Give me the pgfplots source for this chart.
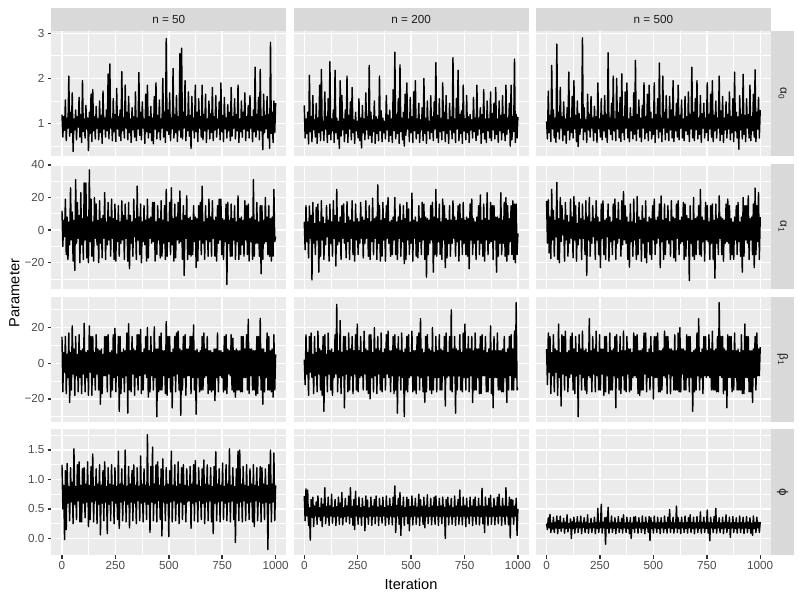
\documentclass[border=0pt]{standalone}
\usepackage{fontspec}
\setmainfont{Liberation Sans}
\newfontfamily\dejavu{DejaVu Sans}
\usepackage{pgfplots}
\usepackage{pgfplotstable}
\pgfplotsset{compat=1.18}

\definecolor{gray92}{HTML}{EBEBEB}
\definecolor{gray85}{HTML}{D9D9D9}
\definecolor{gray30}{HTML}{4D4D4D}
\definecolor{gray20}{HTML}{333333}
\definecolor{gray10}{HTML}{1A1A1A}

% traces: it = iteration, a = n=50, b = n=200, c = n=500
% alpha_0
\pgfplotstableread{
it a b c
0 1.20 1.40 1.05
4 0.70 0.68 0.66
8 1.15 1.10 1.72
12 0.85 0.78 0.80
16 1.52 1.25 1.18
20 0.62 0.55 0.60
24 1.12 2.07 2.29
28 0.90 0.82 0.88
32 2.05 1.15 1.30
36 0.72 0.60 0.68
40 1.25 1.62 1.12
44 0.80 0.86 0.58
48 1.68 1.08 2.76
52 0.38 0.70 0.82
56 1.10 1.45 1.25
60 0.86 0.56 0.66
64 1.30 1.12 1.80
68 0.64 0.80 0.90
72 1.15 1.85 1.15
76 0.92 0.62 0.62
80 1.58 2.20 1.48
84 0.70 0.84 0.75
88 1.20 1.05 1.10
92 0.58 0.62 0.56
96 1.95 1.70 1.35
100 0.82 0.88 0.85
104 1.10 1.15 2.14
108 0.68 0.58 0.64
112 1.40 1.55 1.12
116 0.88 0.76 0.80
120 1.12 2.37 1.60
124 0.40 0.64 0.68
128 1.25 1.10 1.95
132 0.78 0.84 0.88
136 1.65 1.30 1.18
140 0.60 0.58 0.60
144 1.75 2.18 1.50
148 0.84 0.80 0.49
152 1.15 1.12 1.22
156 0.66 0.66 0.76
160 1.38 1.05 1.10
164 0.90 0.45 0.90
168 1.10 1.95 2.90
172 0.64 0.72 0.64
176 1.50 1.62 1.35
180 0.80 0.86 0.82
184 1.18 1.10 1.08
188 0.56 0.60 0.58
192 1.72 1.30 1.65
196 0.88 0.78 0.86
200 1.12 2.05 1.20
204 0.70 0.58 0.70
208 1.30 1.18 1.60
212 0.84 0.88 0.90
216 2.10 1.48 1.12
220 0.66 0.64 0.62
224 2.32 1.80 1.38
228 0.90 0.80 0.80
232 1.10 1.08 1.15
236 0.62 0.56 0.58
240 1.55 1.25 1.90
244 0.82 0.84 0.88
248 1.20 1.05 1.10
252 0.60 0.68 0.70
256 1.78 1.55 1.55
260 0.88 0.62 0.64
264 1.15 1.12 1.18
268 0.72 0.46 0.84
272 1.30 1.40 1.62
276 0.62 0.80 0.70
280 2.15 1.10 1.20
284 0.84 0.64 0.58
288 1.12 1.68 2.57
292 0.68 0.86 0.88
296 1.85 1.15 1.12
300 0.90 0.66 0.76
304 1.25 2.29 1.45
308 0.64 0.74 0.64
312 1.60 1.25 2.05
316 0.80 0.58 0.84
320 1.10 1.08 1.10
324 0.58 0.82 0.62
328 1.35 1.50 2.00
332 0.86 0.56 0.88
336 1.15 1.15 1.25
340 0.70 0.78 0.68
344 1.70 1.10 1.58
348 0.62 0.62 0.60
352 1.12 2.05 2.10
356 0.88 0.84 0.80
360 2.13 1.28 1.15
364 0.74 0.60 0.64
368 1.25 1.12 1.70
372 0.64 0.80 0.90
376 1.48 1.05 1.90
380 0.90 0.66 0.68
384 1.10 1.62 1.10
388 0.56 0.86 0.60
392 1.65 1.18 1.35
396 0.82 0.60 0.84
400 1.85 1.30 1.15
404 0.68 0.74 0.66
408 1.15 1.10 1.68
412 0.80 0.58 0.76
416 1.38 1.75 2.40
420 0.62 0.84 0.62
424 1.12 2.58 1.20
428 0.55 0.66 0.88
432 1.60 1.20 1.52
436 0.88 0.78 0.70
440 1.90 1.55 1.12
444 0.66 0.56 0.60
448 1.18 2.30 1.40
452 0.82 0.82 0.90
456 1.52 1.12 1.90
460 0.64 0.64 0.66
464 1.10 1.25 1.15
468 0.90 0.50 0.80
472 2.00 1.65 1.65
476 0.70 0.74 0.62
480 1.25 1.90 1.85
484 0.58 0.88 0.84
488 2.88 1.10 1.25
492 0.84 0.60 0.66
496 1.30 1.58 1.10
500 0.76 0.80 0.76
504 1.68 1.15 1.90
508 0.62 0.58 0.58
512 1.12 1.70 1.20
516 0.88 0.84 0.88
520 2.22 1.95 1.55
524 0.68 0.66 0.68
528 1.20 1.10 2.34
532 0.80 0.78 0.82
536 1.62 1.45 1.12
540 0.60 0.58 0.60
544 1.15 1.08 2.05
548 0.86 0.86 0.90
552 2.55 1.35 1.25
556 0.70 0.62 0.64
560 2.67 2.00 1.62
564 0.66 0.78 0.80
568 1.25 1.12 1.10
572 0.90 0.56 0.62
576 1.95 1.50 1.60
580 0.62 0.84 0.86
584 1.15 1.05 1.30
588 0.84 0.66 0.68
592 1.70 1.62 1.95
596 0.72 0.80 0.60
600 1.18 1.15 1.15
604 0.45 0.62 0.84
608 1.60 1.48 1.45
612 0.86 0.88 0.70
616 1.12 2.35 1.85
620 0.68 0.68 0.64
624 1.85 1.18 1.18
628 0.82 0.58 0.90
632 1.25 1.55 1.52
636 0.60 0.82 0.68
640 1.55 1.10 1.10
644 0.90 0.64 0.62
648 1.15 1.90 1.60
652 0.70 0.84 0.84
656 1.85 1.25 1.15
660 0.64 0.60 0.76
664 1.20 1.62 1.70
668 0.84 0.78 0.60
672 1.65 1.08 1.20
676 0.58 0.56 0.88
680 1.10 1.45 2.25
684 0.88 0.86 0.68
688 1.50 1.15 1.25
692 0.66 0.66 0.62
696 1.22 2.46 1.55
700 0.80 0.80 0.86
704 1.80 1.10 1.95
708 0.62 0.58 0.66
712 1.15 1.55 1.12
716 0.86 0.88 0.76
720 1.62 2.18 1.62
724 0.70 0.62 0.58
728 1.10 1.20 1.22
732 0.90 0.78 0.90
736 1.48 1.28 1.45
740 0.64 0.56 0.68
744 1.90 1.85 1.12
748 0.82 0.84 0.80
752 1.18 1.10 1.90
756 0.60 0.64 0.62
760 1.58 1.62 1.20
764 0.88 0.80 0.88
768 1.12 1.15 1.65
772 0.68 0.58 0.70
776 1.42 1.20 1.95
780 0.84 0.86 0.60
784 1.25 1.08 1.18
788 0.62 0.68 0.84
792 1.80 1.58 1.50
796 0.72 0.82 0.68
800 1.15 1.12 1.12
804 0.90 0.62 0.90
808 1.55 1.85 2.05
812 0.66 0.74 0.62
816 1.20 1.12 1.28
820 0.84 0.88 0.76
824 1.85 1.35 1.60
828 0.58 0.56 0.58
832 1.10 1.20 1.12
836 0.82 0.80 0.86
840 1.50 1.75 1.48
844 0.70 0.66 0.68
848 1.25 1.10 1.20
852 0.88 0.58 0.88
856 1.68 1.50 1.70
860 0.62 0.84 0.64
864 1.15 1.10 1.15
868 0.84 0.68 0.80
872 1.40 1.70 1.55
876 0.68 0.62 0.60
880 1.62 1.22 2.14
884 0.90 0.86 0.84
888 1.15 1.45 1.25
892 0.60 0.66 0.68
896 1.30 1.80 1.15
900 0.82 0.76 0.43
904 2.25 1.10 1.62
908 0.70 0.58 0.86
912 1.20 1.50 1.20
916 0.86 0.84 0.66
920 1.58 1.18 2.09
924 0.64 0.64 0.76
928 2.20 1.62 1.18
932 0.84 0.80 0.60
936 1.15 1.20 1.55
940 0.42 0.62 0.90
944 1.65 1.85 1.20
948 0.80 0.76 0.68
952 1.18 1.12 1.85
956 0.88 0.88 0.62
960 1.60 1.45 1.15
964 0.68 0.50 0.84
968 1.20 1.85 1.65
972 0.45 0.64 0.70
976 2.80 1.15 2.19
980 0.78 0.82 0.60
984 1.25 2.43 1.25
988 0.58 0.58 0.88
992 1.50 1.20 1.58
996 0.80 0.68 0.68
1000 1.45 1.15 1.30
}\tabA

% alpha_1
\pgfplotstableread{
it a b c
0 12 5 18
4 -10 -12 -8
8 6 15 18.6
12 -4 -7 -14
16 19 5 8
20 -15 -17 -17.5
24 8 14.8 25
28 -18 -5 -6
32 5 9 12
36 -9 -30.5 -16
40 26 17 6
44 -6 -8 -4
48 11 4 29.3
52 -19 -15 -18
56 6 14 7
60 -24.7 -6 -20
64 31 16 20
68 -8 -25.8 -7
72 17 5 15
76 -5 -16 -3
80 9 18 6
84 -20 -6 -19
88 23 8 17
92 -9 -18 -6
96 7 4 9
100 -18 -9 -16
104 29 15 5
108 -6 -4 -8
112 28.9 6 19
116 -17 -19 -5
120 8 16 8
124 -20 -8 -17
128 37 5 20.6
132 -7 -16 -6
136 19 18 15
140 -16 -5 -19
144 5 9 4
148 -19 -22 -9
152 20 25 17
156 -5 -9 -5
160 16 5 7
164 -9 -7 -18
168 6 8 16
172 -20 -18 -5
176 18 15 6
180 -8 -5 -15
184 7 16 18
188 -17 -8 -27.8
192 9 4 8
196 -5 -17 -6
200 23 17.5 20
204 -18 -7 -16
208 5 8 5
212 -9 -18 -8
216 17 6 15
220 -6 -5 -4
224 8 18 7
228 -16 -15 -18
232 19 5 18
236 -5 -19 -6
240 7 16 8
244 -18 -6 -15
248 16 7 5
252 -19 -15 -23
256 6 5 16
260 -7 -8 -5
264 15 17 18
268 -16 -5 -15
272 5 8 6
276 -8 -17 -18
280 18 6 7
284 -6 -8 -4
288 9 18 16
292 -18 -5 -19
296 16 7 8
300 -5 -16 -7
304 6 15 5
308 -19 -18 -15
312 17 5 16
316 -23.7 -7 -6
320 9 19.6 19
324 -8 -15 -18
328 5 7 7
332 -16 -5 -8
336 19 8 17
340 -4 -18 -5
344 7 27.8 6
348 -18 -8 -16
352 27 15 18
356 -6 -19 -9
360 8 6 23.7
364 -15 -16 -6
368 16 17 15
372 -20 -6 -8
376 5 7 8
380 -7 -19 -18
384 15 15 5
388 -9 -5 -22.7
392 6 20 16
396 -19 -8 -7
400 19 5 5
404 -17 -16 -16
408 7 6 19
412 -5 -15 -6
416 8 8 4
420 -8 -6 -18
424 17 20 20.6
428 -7 -15 -15
432 17 5 8
436 -19 -18 -5
440 5 8 6
444 -15 -5 -19
448 15 16 15
452 -6 -16 -8
456 7 6 7
460 -17 -7 -17
464 18 15 18
468 -16 -20.6 -20
472 6 7 5
476 -8 -18 -7
480 15 17 8
484 -18 -6 -15
488 25 13 7
492 -16 -15 -18
496 5 5 15
500 -7 -8 -6
504 17 22.7 19
508 -15 -19 -15
512 26 6 6
516 -9 -5 -8
520 7 8 8
524 -19 -16 -5
528 16 5 16
532 -17 -17 -23
536 8 15 21
540 -6 -7 -7
544 17 7 6
548 -8 -15 -18
552 24 17 16
556 -7 -6 -15
560 6 16 7
564 -18 -18 -6
568 15 8 15
572 -27.8 -28.9 -8
576 9 7 5
580 -5 -15 -16
584 21 6 18
588 -18 -8 -6
592 7 15 8
596 -15 -6 -17
600 8 17 7
604 -16 -25.8 -19
608 6 8 16
612 -15 -15 -5
616 15 25 18
620 -7 -16 -15
624 8 7 6
628 -23 -7 -8
632 7 16 8
636 -19 -15 -7
640 15 5 17
644 -6 -18 -18
648 17 19 16
652 -15 -6 -16
656 27 15 9
660 -8 -23 -6
664 5 7 7
668 -18 -17 -31
672 15 6 15
676 -6 -8 -8
680 7 15 6
684 -16 -16 -16
688 19 6 20
692 -7 -8 -18
696 8 18 7
700 -16 -5 -15
704 18 8 8
708 -5 -16 -6
712 6 6 15
716 -16 -7 -15
720 8 15 25
724 -19 -19 -16
728 15 16 8
732 -8 -6 -7
736 19 7 6
740 -6 -15 -19
744 19 17 17
748 -15 -8 -6
752 7 6 15
756 -18 -15 -7
760 6 8 5
764 -7 -16 -18
768 16 7 15
772 -33.4 -23.7 -8
776 17 16 16
780 -8 -6 -18
784 6 19 6
788 -16 -15 -29.5
792 16 7 16
796 -16 -8 -8
800 7 5 7
804 -6 -18 -15
808 15 8 21
812 -18 -6 -5
816 5 15 8
820 -7 -15 -15
824 21 21.6 7
828 -18 -8 -19
832 7 6 6
836 -15 -16 -8
840 8 16 16
844 -9 -19 -7
848 6 7 19
852 -16 -6 -8
856 18 23 15
860 -6 -15 -18
864 15 6 7
868 -15 -8 -15
872 16 17 5
876 -19 -7 -18
880 7 15 8
884 -7 -18 -6
888 8 15 15
892 -18 -6 -15
896 31 8 17
900 -16 -25.8 -7
904 6 8 5
908 -8 -16 -16
912 17 7 8
916 -8 -8 -25.8
920 5 23 20
924 -16 -15 -16
928 15 6 15
932 -26.8 -8 -6
936 15 17 15
940 -18 -16 -8
944 6 20 21
948 -8 -19 -18
952 20 15 7
956 -7 -15 -6
960 8 7 8
964 -15 -7 -15
968 15 15 16
972 -16 -15 -23
976 7 18 25.8
980 -19 -18 -15
984 8 16 15
988 -16 -20 -7
992 25 16 23
996 -7 -15 -18
1000 -4 -2 8
}\tabB

% beta_1
\pgfplotstableread{
it a b c
0 15 2 8
4 -16 -12 -12
8 6 16 17
12 -5 -6 -5
16 15 6 15
20 -17 -18 -17
24 5 15 6
28 -8 -5 -7
32 17 17 16
36 -22 -8 -16
40 6 5 8
44 -15 -17 -5
48 21 15 7
52 -6 -7 -18
56 8 6 22
60 -18 -16 -8
64 15 18 6
68 -7 -6 -24
72 5 8 16
76 -16 -15 -6
80 16 7 15
84 -8 -18 -15
88 7 15 18
92 -17 -27 -7
96 8 16 6
100 -6 -7 -16
104 22.4 5 7
108 -16 -16 -8
112 6 17 15
116 -8 -6 -6
120 7 7 17
124 -18 -15 -15
128 21 8 8
132 -5 -18 -17
136 15 6 15
140 -18 -8 -7
144 15 16 6
148 -8 -6 -30
152 6 33 16
156 -15 -16 -6
160 16 7 8
164 -6 -8 -15
168 8 24 18
172 -15 -17 -8
176 7 6 7
180 -23 -7 -15
184 8 15 8
188 -17 -25 -17
192 5 15 6
196 -7 -6 -7
200 15 7 25
204 -7 -16 -8
208 15 17 7
212 -16 -15 -16
216 16 8 15
220 -6 -7 -6
224 6 15 8
228 -19 -17 -16
232 7 7 18
236 -15 -6 -7
240 16 16 6
244 -8 -15 -15
248 19.6 22 16
252 -16 -16 -15
256 5 7 8
260 -7 -8 -6
264 15 15 8
268 -27 -7 -18
272 15 6 15
276 -17 -15 -16
280 6 18 15
284 -8 -6 -7
288 8 8 6
292 -16 -15 -17
296 7 7 17
300 -7 -17 -15
304 17 16 7
308 -28 -20 -15
312 22.2 16 8
316 -15 -8 -7
320 7 6 15
324 -16 -16 -25
328 15 20 16
332 -6 -7 -8
336 8 8 6
340 -18 -17 -15
344 7 15 15
348 -8 -6 -17
352 16 7 7
356 -15 -15 -7
360 16 17 18
364 -7 -16 -15
368 19 6 7
372 -17 -8 -16
376 6 8 15
380 -15 -15 -6
384 8 16 8
388 -6 -6 -16
392 15 18 8
396 -8 -8 -15
400 20 7 6
404 -19 -16 -8
408 7 7 17
412 -16 -7 -7
416 15 15 15
420 -7 -17 -8
424 6 16 16
428 -15 -15 -17
432 20.4 8 7
436 -8 -28 -18
440 8 15 7
444 -30 -7 -15
448 8 7 8
452 -16 -15 -15
456 15 17 17
460 -15 -8 -6
464 17 6 17
468 -15 -30 -16
472 7 8 6
476 -7 -15 -8
480 7 15 8
484 -17 -16 -15
488 23.4 16 15
492 -18 -8 -7
496 15 6 6
500 -8 -7 -20
504 15 18 15
508 -16 -16 -8
512 6 7 15
516 -25 -15 -8
520 8 7 17
524 -7 -17 -16
528 15 15 7
532 -16 -7 -16
536 17 17 7
540 -6 -15 -15
544 18 25 8
548 -15 -8 -7
552 8 8 18
556 -29.3 -16 -8
560 7 6 15
564 -15 -22 -17
568 15 15 15
572 -8 -16 -6
576 16 16 8
580 -18 -7 -17
584 8 8 8
588 -7 -15 -7
592 8 7 7
596 -7 -17 -15
600 15 20 16
604 -17 -15 -15
608 15 6 7
612 -8 -8 -15
616 21.5 15 17
620 -15 -16 -16
624 7 7 20
628 -28.6 -8 -16
632 8 16 8
636 -8 -15 -6
640 6 8 8
644 -16 -15 -15
648 7 7 7
652 -15 -7 -15
656 15 15 16
660 -15 -24 -8
664 17 17 15
668 -8 -8 -16
672 8 6 15
676 -7 -7 -8
680 15 15 6
684 -17 -15 -27
688 7 30 7
692 -15 -16 -16
696 7 8 8
700 -16 -7 -15
704 6 15 17
708 -15 -28 -7
712 8 8 25
716 -21 -15 -15
720 8 7 6
724 -8 -7 -8
728 17 16 8
732 -16 -15 -17
736 7 6 15
740 -7 -16 -7
744 7 17 15
748 -8 -8 -8
752 6 22 7
756 -16 -15 -7
760 15 8 16
764 -15 -8 -8
768 16 15 8
772 -17 -16 -15
776 8 8 18
780 -6 -7 -15
784 7 15 7
788 -7 -22 -15
792 16 7 8
796 -15 -15 -16
800 14 17 15
804 -16 -15 -16
808 7 8 34
812 -19 -8 -7
816 8 8 15
820 -15 -17 -8
824 7 15 15
828 -15 -17 -17
832 7 16 8
836 -16 -7 -15
840 15 7 7
844 -16 -7 -25
848 15 15 16
852 -8 -16 -8
856 8 6 15
860 -8 -16 -8
864 16 8 15
868 -15 -8 -16
872 24.7 21 7
876 -17 -17 -15
880 8 7 17
884 -7 -25 -8
888 8 15 7
892 -15 -8 -15
896 7 7 8
900 -15 -8 -15
904 7 17 6
908 -18 -15 -15
912 15 7 16
916 -17 -15 -17
920 15 7 7
924 -7 -16 -17
928 25.2 8 22
932 -15 -16 -8
936 8 15 15
940 -23 -8 -8
944 8 6 15
948 -16 -22 -16
952 6 8 7
956 -8 -15 -16
960 17 15 7
964 -15 -7 -22
968 15 16 8
972 -15 -15 -8
976 7 8 15
980 -16 -15 -15
984 8 18 17
988 -19 -8 -7
992 16 34 8
996 -15 -15 -7
1000 5 -14 9
}\tabC

% phi
\pgfplotstableread{
it a b c
0 1.25 0.72 0.25
4 0.50 0.30 0.15
8 0.90 0.84 0.35
12 -0.02 0.38 0.18
16 1.15 0.82 0.41
20 0.15 0.22 0.10
24 1.27 0.52 0.26
28 0.60 -0.03 0.16
32 0.88 0.66 0.36
36 0.30 0.36 0.10
40 1.20 0.70 0.27
44 0.62 0.20 0.18
48 0.95 0.55 0.38
52 0.25 0.38 0.08
56 1.52 0.62 0.30
60 0.58 0.24 0.17
64 0.88 0.72 0.38
68 0.32 0.37 0.12
72 1.25 0.52 0.26
76 0.64 0.30 0.18
80 1.30 0.68 0.34
84 0.28 0.20 0.09
88 0.90 0.58 0.27
92 0.28 0.38 0.17
96 1.18 0.86 0.40
100 0.60 0.25 0.11
104 1.20 0.54 0.25
108 0.35 0.36 0.18
112 0.92 0.70 0.33
116 0.62 0.22 0.00
120 1.30 0.55 0.28
124 0.20 0.38 0.17
128 0.90 0.75 0.36
132 0.32 0.26 0.09
136 1.22 0.52 0.26
140 0.62 0.37 0.18
144 1.43 0.66 0.37
148 0.28 0.22 0.10
152 0.88 0.54 0.27
156 0.64 0.38 0.18
160 1.18 0.70 0.38
164 0.25 0.24 0.08
168 0.92 0.60 0.26
172 0.58 0.36 0.19
176 1.25 0.78 0.35
180 0.06 0.23 0.10
184 0.90 0.52 0.27
188 0.60 0.37 0.17
192 1.15 0.68 0.40
196 0.30 0.28 0.09
200 1.30 0.55 0.25
204 0.62 0.38 0.18
208 0.88 0.72 0.34
212 0.08 0.25 0.10
216 1.20 0.86 0.26
220 0.58 0.36 0.18
224 0.92 0.54 0.36
228 0.30 0.22 0.08
232 1.25 0.66 0.27
236 0.64 0.15 0.17
240 0.90 0.80 0.51
244 0.25 0.38 0.10
248 1.20 0.55 0.26
252 0.60 0.24 0.18
256 0.88 0.70 0.58
260 0.32 0.37 0.09
264 1.48 0.52 0.27
268 0.17 0.22 0.18
272 0.92 0.68 0.35
276 0.62 0.38 -0.10
280 1.18 0.54 0.36
284 0.30 0.13 0.17
288 0.90 0.72 0.53
292 0.64 0.36 0.09
296 1.50 0.65 0.26
300 0.28 0.24 0.18
304 0.88 0.52 0.38
308 0.58 0.38 0.10
312 1.22 0.70 0.27
316 0.18 0.22 0.17
320 0.92 0.55 0.35
324 0.62 0.37 0.08
328 1.15 0.66 0.26
332 0.30 0.25 0.18
336 1.25 0.72 0.37
340 0.60 0.38 0.10
344 0.90 0.53 0.27
348 0.25 0.22 0.17
352 1.20 0.68 0.34
356 0.64 0.37 0.09
360 0.88 0.55 0.40
364 0.30 0.26 0.18
368 1.40 0.70 0.26
372 0.60 0.38 0.10
376 0.92 0.52 0.36
380 0.28 0.22 0.17
384 1.18 0.72 0.27
388 0.62 0.36 0.08
392 0.90 0.55 0.35
396 0.32 0.24 0.00
400 1.76 0.68 0.26
404 0.58 0.38 0.17
408 0.88 0.54 0.36
412 0.10 0.23 0.10
416 1.22 0.70 0.37
420 0.62 0.37 0.18
424 1.55 0.89 0.27
428 0.30 0.10 0.09
432 0.92 0.56 0.35
436 0.60 0.38 0.18
440 1.25 0.68 0.26
444 0.28 0.24 0.10
448 1.30 0.78 0.38
452 0.64 0.05 0.17
456 0.90 0.55 0.27
460 0.32 0.37 0.08
464 1.18 0.70 0.36
468 0.04 0.22 0.18
472 1.35 0.52 0.26
476 0.62 0.38 0.10
480 0.88 0.70 0.37
484 0.30 0.25 -0.04
488 1.20 0.66 0.35
492 0.60 0.13 0.17
496 0.92 0.54 0.27
500 0.03 0.37 0.09
504 1.15 0.72 0.38
508 0.62 0.23 0.18
512 1.48 0.55 0.26
516 0.28 0.38 0.10
520 0.90 0.68 0.36
524 0.64 0.24 0.17
528 1.25 0.53 0.27
532 0.30 0.37 0.08
536 0.88 0.75 0.35
540 0.60 0.22 0.18
544 1.30 0.66 0.26
548 0.25 0.38 0.10
552 0.92 0.54 0.38
556 0.62 0.24 0.17
560 1.20 0.70 0.27
564 0.32 0.18 0.09
568 1.25 0.55 0.36
572 0.58 0.37 0.18
576 0.90 0.74 0.49
580 0.28 0.25 0.10
584 1.18 0.52 0.27
588 0.62 0.38 0.17
592 0.88 0.68 0.36
596 0.64 0.23 0.09
600 1.22 0.55 0.26
604 0.17 0.37 0.18
608 0.92 0.70 0.55
612 0.60 0.24 0.10
616 1.25 0.72 0.35
620 0.30 0.38 0.17
624 1.32 0.54 0.27
628 0.62 0.22 0.08
632 0.90 0.68 0.36
636 0.28 0.37 0.18
640 1.20 0.55 0.26
644 0.64 0.25 0.10
648 0.88 0.70 0.38
652 0.32 0.38 0.17
656 1.18 0.53 0.27
660 0.60 0.00 0.09
664 1.33 0.66 0.35
668 0.25 0.37 0.18
672 0.92 0.70 0.40
676 0.62 0.23 0.10
680 1.25 0.55 0.27
684 0.30 0.38 0.17
688 0.90 0.68 0.36
692 0.64 0.24 0.08
696 1.20 0.52 0.26
700 0.28 0.37 0.18
704 0.88 0.72 0.37
708 0.08 0.22 0.10
712 1.22 0.55 0.27
716 0.60 0.38 0.17
720 1.47 0.66 0.45
724 0.30 0.24 0.09
728 0.92 0.82 0.27
732 0.62 0.37 0.18
736 1.18 0.54 0.36
740 0.28 0.23 0.10
744 0.90 0.70 0.26
748 0.64 0.38 0.17
752 1.28 0.55 0.48
756 0.32 0.20 0.09
760 0.88 0.68 0.27
764 0.60 0.37 -0.04
768 1.25 0.52 0.36
772 0.30 0.25 0.18
776 0.92 0.70 0.26
780 0.62 0.38 0.10
784 1.52 0.55 0.37
788 0.28 0.22 0.17
792 0.90 0.66 0.51
796 0.64 0.37 0.09
800 1.20 0.70 0.27
804 0.32 0.24 0.18
808 0.88 0.54 0.35
812 -0.07 0.38 0.10
816 1.18 0.68 0.26
820 0.60 0.23 0.17
824 1.48 0.55 0.36
828 0.30 0.37 0.08
832 1.50 0.85 0.27
836 0.62 0.25 0.18
840 0.92 0.54 0.40
844 0.28 0.10 0.10
848 1.22 0.70 0.27
852 0.64 0.38 0.17
856 0.90 0.55 0.36
860 0.30 0.22 0.02
864 1.25 0.68 0.26
868 0.60 0.37 0.18
872 0.88 0.73 0.37
876 0.32 0.24 0.10
880 1.18 0.52 0.27
884 0.62 0.38 0.17
888 0.92 0.68 0.35
892 0.28 0.23 0.09
896 1.25 0.55 0.26
900 0.20 0.37 0.18
904 0.90 0.70 0.38
908 0.64 0.25 0.10
912 1.20 0.75 0.27
916 0.30 0.38 0.17
920 0.88 0.54 0.36
924 0.62 0.22 0.08
928 1.22 0.68 0.26
932 0.28 0.37 0.18
936 1.20 0.55 0.37
940 0.60 0.24 0.10
944 0.92 0.86 0.27
948 0.32 0.38 0.17
952 1.18 0.54 0.35
956 0.62 0.23 0.09
960 0.90 0.70 0.26
964 -0.19 0.01 0.05
968 1.25 0.66 0.38
972 0.60 0.37 0.17
976 1.50 0.65 0.27
980 0.28 0.24 0.10
984 0.92 0.55 0.36
988 0.62 0.38 0.18
992 1.45 0.68 0.27
996 0.30 0.05 0.10
1000 0.90 0.50 0.28
}\tabD

\pgfplotsset{
  panel/.style={
    scale only axis, width=176.25bp, height=94.125bp, anchor=south west,
    xmin=-50, xmax=1050,
    xtick={0,250,500,750,1000}, minor xtick={125,375,625,875},
    xticklabels={0,250,500,750,1000},
    axis background/.style={fill=gray92},
    axis line style={draw=none},
    grid=both,
    major grid style={white, line width=1.07bp},
    minor grid style={white, line width=0.53bp},
    tick align=outside, major tick length=2.75bp, minor tick length=0pt,
    tick style={gray20, line width=1.07bp},
    xtick pos=left, ytick pos=left,
    ticklabel style={font=\fontsize{8.8}{10}\selectfont, text=gray30, inner sep=2.2bp},
  },
  row1/.style={ymin=0.27, ymax=3.05, ytick={1,2,3}, minor ytick={0.5,1.5,2.5},
    yticklabels={1,2,3}},
  row2/.style={ymin=-36.3, ymax=40.7, ytick={-20,0,20,40}, minor ytick={-30,-10,10,30},
    yticklabels={−20,0,20,40}},
  row3/.style={ymin=-33, ymax=37.4, ytick={-20,0,20}, minor ytick={-30,-10,10,30},
    yticklabels={−20,0,20}},
  row4/.style={ymin=-0.28, ymax=1.85, ytick={0,0.5,1,1.5}, minor ytick={0.25,0.75,1.25,1.75},
    yticklabels={0.0,0.5,1.0,1.5}},
  noy/.style={yticklabels={}, ytick style={draw=none}},
  nox/.style={xticklabels={}, xtick style={draw=none}},
  trace/.style={black, line width=1.07bp, line join=round, mark=none},
}

\begin{document}
\begin{tikzpicture}
\useasboundingbox (0,0) rectangle (600bp,450bp);
\fill[white] (0,0) rectangle (600bp,450bp);

% row 1: alpha_0
\begin{axis}[panel, row1, nox, at={(38.475bp,332.625bp)}]
\addplot[trace] table[x=it, y=a] {\tabA};
\end{axis}
\begin{axis}[panel, row1, nox, noy, at={(220.2bp,332.625bp)}]
\addplot[trace] table[x=it, y=b] {\tabA};
\end{axis}
\begin{axis}[panel, row1, nox, noy, at={(401.925bp,332.625bp)}]
\addplot[trace] table[x=it, y=c] {\tabA};
\end{axis}

% row 2: alpha_1
\begin{axis}[panel, row2, nox, at={(38.475bp,233.025bp)}]
\addplot[trace] table[x=it, y=a] {\tabB};
\end{axis}
\begin{axis}[panel, row2, nox, noy, at={(220.2bp,233.025bp)}]
\addplot[trace] table[x=it, y=b] {\tabB};
\end{axis}
\begin{axis}[panel, row2, nox, noy, at={(401.925bp,233.025bp)}]
\addplot[trace] table[x=it, y=c] {\tabB};
\end{axis}

% row 3: beta_1
\begin{axis}[panel, row3, nox, at={(38.475bp,133.425bp)}]
\addplot[trace] table[x=it, y=a] {\tabC};
\end{axis}
\begin{axis}[panel, row3, nox, noy, at={(220.2bp,133.425bp)}]
\addplot[trace] table[x=it, y=b] {\tabC};
\end{axis}
\begin{axis}[panel, row3, nox, noy, at={(401.925bp,133.425bp)}]
\addplot[trace] table[x=it, y=c] {\tabC};
\end{axis}

% row 4: phi
\begin{axis}[panel, row4, at={(38.475bp,33.825bp)}]
\addplot[trace] table[x=it, y=a] {\tabD};
\end{axis}
\begin{axis}[panel, row4, noy, at={(220.2bp,33.825bp)}]
\addplot[trace] table[x=it, y=b] {\tabD};
\end{axis}
\begin{axis}[panel, row4, noy, at={(401.925bp,33.825bp)}]
\addplot[trace] table[x=it, y=c] {\tabD};
\end{axis}

% strips
\begin{scope}[every node/.style={font=\fontsize{8.8}{10}\selectfont, text=gray10, inner sep=0pt}]
\fill[gray85] (38.475bp,426.75bp) rectangle ++(176.25bp,17.6bp);
\fill[gray85] (220.2bp,426.75bp) rectangle ++(176.25bp,17.6bp);
\fill[gray85] (401.925bp,426.75bp) rectangle ++(176.25bp,17.6bp);
\node at (126.6bp,435.55bp) {n = 50};
\node at (308.325bp,435.55bp) {n = 200};
\node at (490.05bp,435.55bp) {n = 500};
\fill[gray85] (578.175bp,332.625bp) rectangle ++(17.6bp,94.125bp);
\fill[gray85] (578.175bp,233.025bp) rectangle ++(17.6bp,94.125bp);
\fill[gray85] (578.175bp,133.425bp) rectangle ++(17.6bp,94.125bp);
\fill[gray85] (578.175bp,33.825bp) rectangle ++(17.6bp,94.125bp);
\node[rotate=-90] at (586.975bp,379.69bp) {α\textsubscript{0}};
\node[rotate=-90] at (586.975bp,280.09bp) {α\textsubscript{1}};
\node[rotate=-90] at (586.975bp,180.49bp) {β\textsubscript{1}};
\node[rotate=-90] at (586.975bp,80.89bp) {\dejavu ϕ};
\end{scope}

% axis titles
\node[font=\fontsize{11}{13}\selectfont, rotate=90] at (10.9bp,230.3bp) {Parameter};
\node[font=\fontsize{11}{13}\selectfont, anchor=base] at (308.3bp,8bp) {Iteration};
\end{tikzpicture}
\end{document}
